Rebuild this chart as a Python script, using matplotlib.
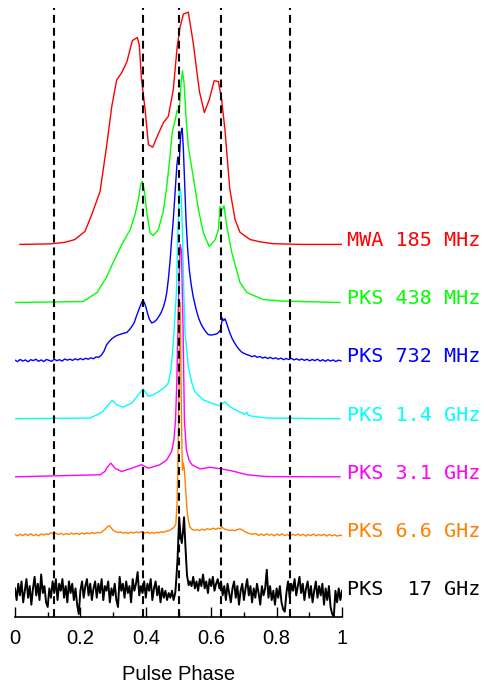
import matplotlib
matplotlib.use("Agg")
import matplotlib.pyplot as plt
import numpy as np

plt.rcParams["font.family"] = ["Liberation Sans", "DejaVu Sans"]

# ---- pulse profiles, normalised to a peak of 1 (phase, intensity) ----
mwa185_phase = [0.015, 0.107, 0.153, 0.183, 0.214, 0.235, 0.260, 0.280, 0.296, 0.311, 0.326, 0.342,
                0.359, 0.374, 0.380, 0.387, 0.398, 0.408, 0.421, 0.435, 0.454, 0.469, 0.484, 0.496,
                0.505, 0.515, 0.530, 0.545, 0.564, 0.579, 0.594, 0.609, 0.622, 0.632, 0.642, 0.657,
                0.673, 0.688, 0.719, 0.749, 0.790, 0.872, 0.999]
mwa185 = [0.000, 0.002, 0.009, 0.021, 0.056, 0.129, 0.227, 0.421, 0.594, 0.708, 0.738, 0.785,
          0.877, 0.890, 0.858, 0.708, 0.579, 0.429, 0.418, 0.465, 0.524, 0.551, 0.665, 0.851,
          0.936, 0.991, 0.999, 0.867, 0.658, 0.567, 0.622, 0.704, 0.701, 0.622, 0.494, 0.236,
          0.107, 0.052, 0.021, 0.011, 0.003, 0.000, 0.000]

pks438_phase = [0.000, 0.208, 0.251, 0.281, 0.300, 0.315, 0.330, 0.352, 0.367, 0.377, 0.385, 0.389,
                0.395, 0.403, 0.413, 0.423, 0.438, 0.453, 0.464, 0.474, 0.481, 0.489, 0.496, 0.502,
                0.507, 0.512, 0.517, 0.523, 0.530, 0.545, 0.561, 0.576, 0.594, 0.612, 0.622, 0.627,
                0.633, 0.639, 0.648, 0.663, 0.688, 0.709, 0.758, 0.820, 0.994]
pks438 = [0.000, 0.004, 0.043, 0.112, 0.172, 0.215, 0.258, 0.313, 0.378, 0.442, 0.511, 0.522,
          0.487, 0.388, 0.300, 0.288, 0.313, 0.388, 0.498, 0.629, 0.736, 0.779, 0.828, 0.815,
          0.927, 0.997, 0.944, 0.798, 0.670, 0.541, 0.399, 0.300, 0.240, 0.270, 0.313, 0.412,
          0.399, 0.416, 0.326, 0.215, 0.086, 0.043, 0.013, 0.006, 0.000]

pks732_phase = [0.000, 0.008, 0.016, 0.024, 0.032, 0.040, 0.048, 0.056, 0.064, 0.072, 0.080, 0.088,
                0.096, 0.104, 0.112, 0.120, 0.128, 0.136, 0.144, 0.152, 0.160, 0.168, 0.176, 0.184,
                0.192, 0.200, 0.208, 0.216, 0.224, 0.232, 0.240, 0.248, 0.256, 0.264, 0.272, 0.280,
                0.288, 0.296, 0.306, 0.315, 0.324, 0.333, 0.342, 0.350, 0.358, 0.365, 0.371, 0.377,
                0.383, 0.388, 0.392, 0.396, 0.400, 0.405, 0.411, 0.418, 0.425, 0.433, 0.440, 0.447,
                0.454, 0.460, 0.464, 0.469, 0.474, 0.479, 0.484, 0.488, 0.492, 0.495, 0.498, 0.502,
                0.505, 0.507, 0.509, 0.511, 0.513, 0.515, 0.519, 0.523, 0.528, 0.533, 0.539, 0.545,
                0.553, 0.561, 0.568, 0.575, 0.583, 0.591, 0.600, 0.608, 0.617, 0.624, 0.629, 0.632,
                0.634, 0.638, 0.642, 0.645, 0.651, 0.657, 0.664, 0.671, 0.678, 0.686, 0.694, 0.702,
                0.709, 0.717, 0.725, 0.733, 0.741, 0.749, 0.757, 0.765, 0.773, 0.781, 0.789, 0.797,
                0.805, 0.813, 0.821, 0.829, 0.837, 0.845, 0.853, 0.861, 0.869, 0.877, 0.885, 0.893,
                0.901, 0.909, 0.917, 0.925, 0.933, 0.941, 0.949, 0.957, 0.965, 0.973, 0.981, 0.989,
                0.997]
pks732 = [0.002, -0.004, 0.005, -0.002, 0.003, -0.005, 0.004, 0.000, 0.006, -0.003, 0.003, -0.004,
          0.005, 0.001, -0.003, 0.006, 0.000, 0.004, -0.002, 0.007, 0.002, 0.006, 0.001, 0.008,
          0.003, 0.009, 0.004, 0.010, 0.006, 0.012, 0.008, 0.016, 0.014, 0.024, 0.040, 0.068,
          0.082, 0.094, 0.104, 0.110, 0.114, 0.118, 0.121, 0.133, 0.148, 0.165, 0.190, 0.213,
          0.235, 0.252, 0.258, 0.248, 0.232, 0.205, 0.178, 0.162, 0.166, 0.176, 0.190, 0.207,
          0.232, 0.262, 0.292, 0.350, 0.425, 0.520, 0.605, 0.690, 0.777, 0.840, 0.876, 0.850,
          0.930, 0.974, 0.992, 1.000, 0.960, 0.906, 0.750, 0.605, 0.480, 0.391, 0.325, 0.275,
          0.225, 0.185, 0.160, 0.142, 0.125, 0.112, 0.110, 0.112, 0.115, 0.124, 0.133, 0.165,
          0.183, 0.172, 0.180, 0.170, 0.145, 0.119, 0.095, 0.077, 0.062, 0.047, 0.036, 0.030,
          0.026, 0.022, 0.017, 0.021, 0.014, 0.018, 0.011, 0.015, 0.009, 0.014, 0.008, 0.012,
          0.006, 0.011, 0.004, 0.009, 0.005, 0.010, 0.003, 0.008, 0.002, 0.007, 0.001, 0.006,
          -0.001, 0.005, 0.000, 0.006, -0.002, 0.004, -0.003, 0.004, -0.002, 0.003, -0.004, 0.002,
          -0.001]

pks1400_phase = [0.000, 0.229, 0.251, 0.269, 0.285, 0.298, 0.311, 0.331, 0.357, 0.377, 0.392, 0.408,
                 0.423, 0.443, 0.459, 0.469, 0.477, 0.484, 0.489, 0.494, 0.498, 0.503, 0.508, 0.512,
                 0.516, 0.520, 0.530, 0.540, 0.550, 0.566, 0.575, 0.606, 0.627, 0.642, 0.657, 0.683,
                 0.703, 0.709, 0.713, 0.729, 0.770, 0.994]
pks1400 = [0.000, 0.003, 0.017, 0.031, 0.060, 0.079, 0.060, 0.050, 0.067, 0.103, 0.128, 0.096,
           0.103, 0.120, 0.137, 0.155, 0.210, 0.326, 0.438, 0.554, 0.811, 1.000, 0.966, 0.811,
           0.554, 0.369, 0.223, 0.159, 0.116, 0.094, 0.082, 0.064, 0.056, 0.073, 0.052, 0.032,
           0.019, 0.028, 0.015, 0.010, 0.003, 0.000]

pks3100_phase = [0.000, 0.260, 0.275, 0.282, 0.293, 0.306, 0.326, 0.357, 0.387, 0.408, 0.443, 0.464,
                 0.479, 0.486, 0.491, 0.495, 0.500, 0.505, 0.509, 0.514, 0.518, 0.524, 0.532, 0.541,
                 0.566, 0.596, 0.632, 0.668, 0.709, 0.770, 0.994]
pks3100 = [0.000, 0.009, 0.023, 0.041, 0.059, 0.037, 0.023, 0.037, 0.052, 0.037, 0.052, 0.073,
           0.109, 0.159, 0.245, 0.416, 0.760, 1.000, 0.974, 0.631, 0.245, 0.116, 0.073, 0.052,
           0.034, 0.041, 0.034, 0.024, 0.009, 0.001, 0.000]

pks6600_phase = [0.000, 0.008, 0.016, 0.024, 0.032, 0.040, 0.048, 0.056, 0.064, 0.072, 0.080, 0.088,
                 0.096, 0.104, 0.110, 0.116, 0.124, 0.132, 0.140, 0.148, 0.156, 0.164, 0.172, 0.180,
                 0.188, 0.196, 0.204, 0.212, 0.220, 0.228, 0.236, 0.244, 0.252, 0.260, 0.268, 0.275,
                 0.281, 0.288, 0.294, 0.301, 0.308, 0.316, 0.324, 0.331, 0.339, 0.347, 0.355, 0.363,
                 0.371, 0.379, 0.386, 0.392, 0.398, 0.405, 0.412, 0.419, 0.426, 0.433, 0.440, 0.447,
                 0.454, 0.461, 0.468, 0.474, 0.480, 0.486, 0.489, 0.492, 0.496, 0.499, 0.502, 0.505,
                 0.508, 0.510, 0.512, 0.515, 0.518, 0.522, 0.526, 0.530, 0.535, 0.541, 0.548, 0.556,
                 0.564, 0.572, 0.580, 0.588, 0.596, 0.606, 0.614, 0.622, 0.628, 0.634, 0.641, 0.649,
                 0.657, 0.665, 0.672, 0.680, 0.688, 0.695, 0.703, 0.710, 0.718, 0.729, 0.737, 0.745,
                 0.753, 0.761, 0.769, 0.777, 0.785, 0.793, 0.801, 0.809, 0.817, 0.825, 0.833, 0.841,
                 0.849, 0.857, 0.865, 0.873, 0.881, 0.889, 0.897, 0.905, 0.913, 0.921, 0.929, 0.937,
                 0.945, 0.953, 0.961, 0.969, 0.977, 0.985, 0.993, 1.000]
pks6600 = [0.002, -0.004, 0.003, -0.003, 0.004, -0.002, 0.005, -0.003, 0.002, -0.004, 0.004, 0.000,
           0.005, 0.002, 0.010, 0.004, 0.008, 0.002, 0.007, 0.001, 0.006, 0.002, 0.008, 0.003,
           0.007, 0.002, 0.008, 0.004, 0.009, 0.005, 0.010, 0.006, 0.011, 0.009, 0.016, 0.024,
           0.033, 0.040, 0.030, 0.019, 0.014, 0.010, 0.013, 0.007, 0.011, 0.006, 0.012, 0.008,
           0.013, 0.009, 0.014, 0.012, 0.008, 0.013, 0.006, 0.011, 0.007, 0.012, 0.009, 0.014,
           0.011, 0.016, 0.017, 0.021, 0.026, 0.033, 0.039, 0.047, 0.150, 0.378, 0.665, 1.000,
           0.665, 0.408, 0.279, 0.309, 0.279, 0.193, 0.107, 0.064, 0.034, 0.025, 0.020, 0.023,
           0.019, 0.025, 0.021, 0.027, 0.023, 0.029, 0.024, 0.030, 0.026, 0.033, 0.025, 0.022,
           0.019, 0.022, 0.018, 0.023, 0.026, 0.022, 0.014, 0.010, 0.005, 0.003, 0.006, -0.002,
           0.004, -0.003, 0.005, -0.001, 0.003, -0.004, 0.004, -0.002, 0.005, -0.003, 0.002, -0.004,
           0.003, -0.002, 0.004, -0.003, 0.003, -0.005, 0.002, -0.003, 0.004, -0.004, 0.002, -0.003,
           0.003, -0.005, 0.002, -0.004, 0.001, -0.005, -0.001, -0.003]

# 17 GHz: off-pulse bins every 0.005 in phase, plus the pulse itself
pks17g_left = [0.02, -0.03, 0.04, -0.01, 0.05, -0.04, 0.01, 0.06, -0.02, 0.03, -0.05, 0.02,
               0.07, -0.01, 0.04, -0.03, 0.08, 0.00, 0.03, -0.04, -0.06, 0.02, -0.02, 0.05,
               0.00, 0.06, -0.03, 0.04, 0.01, 0.06, -0.02, 0.03, -0.04, 0.05, 0.00, 0.04,
               -0.03, 0.02, -0.05, -0.09, 0.01, 0.05, -0.02, 0.03, 0.06, -0.01, 0.04, -0.03,
               0.02, 0.05, -0.02, 0.04, 0.00, 0.06, -0.03, 0.03, 0.01, 0.05, -0.04, 0.02,
               -0.01, 0.04, -0.03, -0.06, 0.07, 0.01, 0.04, -0.02, 0.05, 0.00, 0.03, -0.04,
               0.06, 0.01, 0.04, 0.09, -0.01, 0.03, 0.00, 0.05, -0.02, 0.04, 0.01, 0.06,
               -0.03, 0.02, 0.05, -0.01, 0.03, -0.04, 0.02, -0.02, 0.01, -0.03, 0.00, -0.02,
               0.01, -0.03, 0.00]
pks17g_pulse_phase = [0.492, 0.497, 0.502, 0.506, 0.510, 0.514, 0.517, 0.521, 0.526, 0.531]
pks17g_pulse = [0.034, 0.142, 0.326, 0.249, 0.215, 0.270, 0.326, 0.206, 0.077, 0.034]
pks17g_right = [0.05, 0.03, 0.07, 0.02, 0.05, 0.01, 0.06, 0.03, 0.08, 0.02, 0.05, 0.00,
                0.06, 0.03, 0.07, 0.01, 0.04, 0.06, 0.02, 0.05, -0.01, 0.03, -0.03, 0.04,
                0.00, -0.04, 0.02, 0.05, -0.02, 0.03, -0.05, 0.01, 0.04, -0.03, 0.02, 0.06,
                -0.01, 0.03, -0.04, 0.02, -0.02, 0.04, 0.00, -0.05, 0.03, -0.01, 0.02, 0.10,
                -0.02, 0.03, -0.03, 0.01, -0.05, 0.02, -0.02, 0.03, -0.04, -0.07, -0.08, 0.00,
                0.05, -0.02, 0.04, 0.01, 0.06, -0.01, 0.03, 0.07, 0.00, 0.04, -0.03, 0.02,
                0.05, -0.02, 0.03, -0.04, 0.01, 0.05, -0.02, 0.03, -0.01, 0.04, -0.05, 0.02,
                -0.03, 0.03, -0.06, -0.09, -0.10, 0.01, -0.04, 0.02, -0.03, 0.01]

pks17g_phase = np.concatenate([0.005 * np.arange(len(pks17g_left)),
                               pks17g_pulse_phase,
                               0.535 + 0.005 * np.arange(len(pks17g_right))])
pks17g = np.concatenate([pks17g_left, pks17g_pulse, pks17g_right])

labels = ["MWA 185 MHz", "PKS 438 MHz", "PKS 732 MHz", "PKS 1.4 GHz",
          "PKS 3.1 GHz", "PKS 6.6 GHz", "PKS  17 GHz"]
colors = ["#ff0000", "#00ff00", "#0000ff", "#00ffff", "#ff00ff", "#ff8000", "#000000"]
widths = [1.0, 1.0, 1.0, 1.0, 1.0, 1.0, 1.4]
profiles = [(mwa185_phase, mwa185), (pks438_phase, pks438), (pks732_phase, pks732),
            (pks1400_phase, pks1400), (pks3100_phase, pks3100), (pks6600_phase, pks6600),
            (pks17g_phase, pks17g)]
component_phases = [0.12, 0.39, 0.50, 0.63, 0.84]
step = 0.25

fig = plt.figure(figsize=(4.85, 6.86), dpi=100)
ax = fig.add_axes([15 / 485, 69 / 686, 327 / 485, 609 / 686])

n = len(profiles)
for i, ((ph, val), lab, col, lw) in enumerate(zip(profiles, labels, colors, widths)):
    off = (n - 1 - i) * step
    ax.plot(ph, np.asarray(val) + off, color=col, lw=lw, solid_joinstyle="round")
    ax.text(1.0145, off - 0.008, lab, color=col, fontsize=14.5, va="baseline", ha="left",
            family=["DejaVu Sans Mono"], clip_on=False)

for p in component_phases:
    ax.axvline(p, color="black", lw=1.5, dashes=(3.8, 2.4))

ax.set_xlim(0, 1)
ax.set_ylim(-0.103, 2.517)
for s in ["left", "right", "top"]:
    ax.spines[s].set_visible(False)
ax.spines["bottom"].set_linewidth(1.2)
ax.set_yticks([])
ax.set_xticks([0, 0.2, 0.4, 0.6, 0.8, 1.0])
ax.set_xticklabels(["0", "0.2", "0.4", "0.6", "0.8", "1"])
ax.set_xticks(np.arange(0.1, 1.0, 0.2), minor=True)
ax.tick_params(axis="x", which="major", direction="in", length=7.2, width=1.0,
               pad=8.6, labelsize=14.5)
ax.tick_params(axis="x", which="minor", direction="in", length=3.6, width=1.0)
ax.set_xlabel("Pulse Phase", fontsize=14.5, labelpad=12.5)

fig.savefig("out.png", dpi=100)
